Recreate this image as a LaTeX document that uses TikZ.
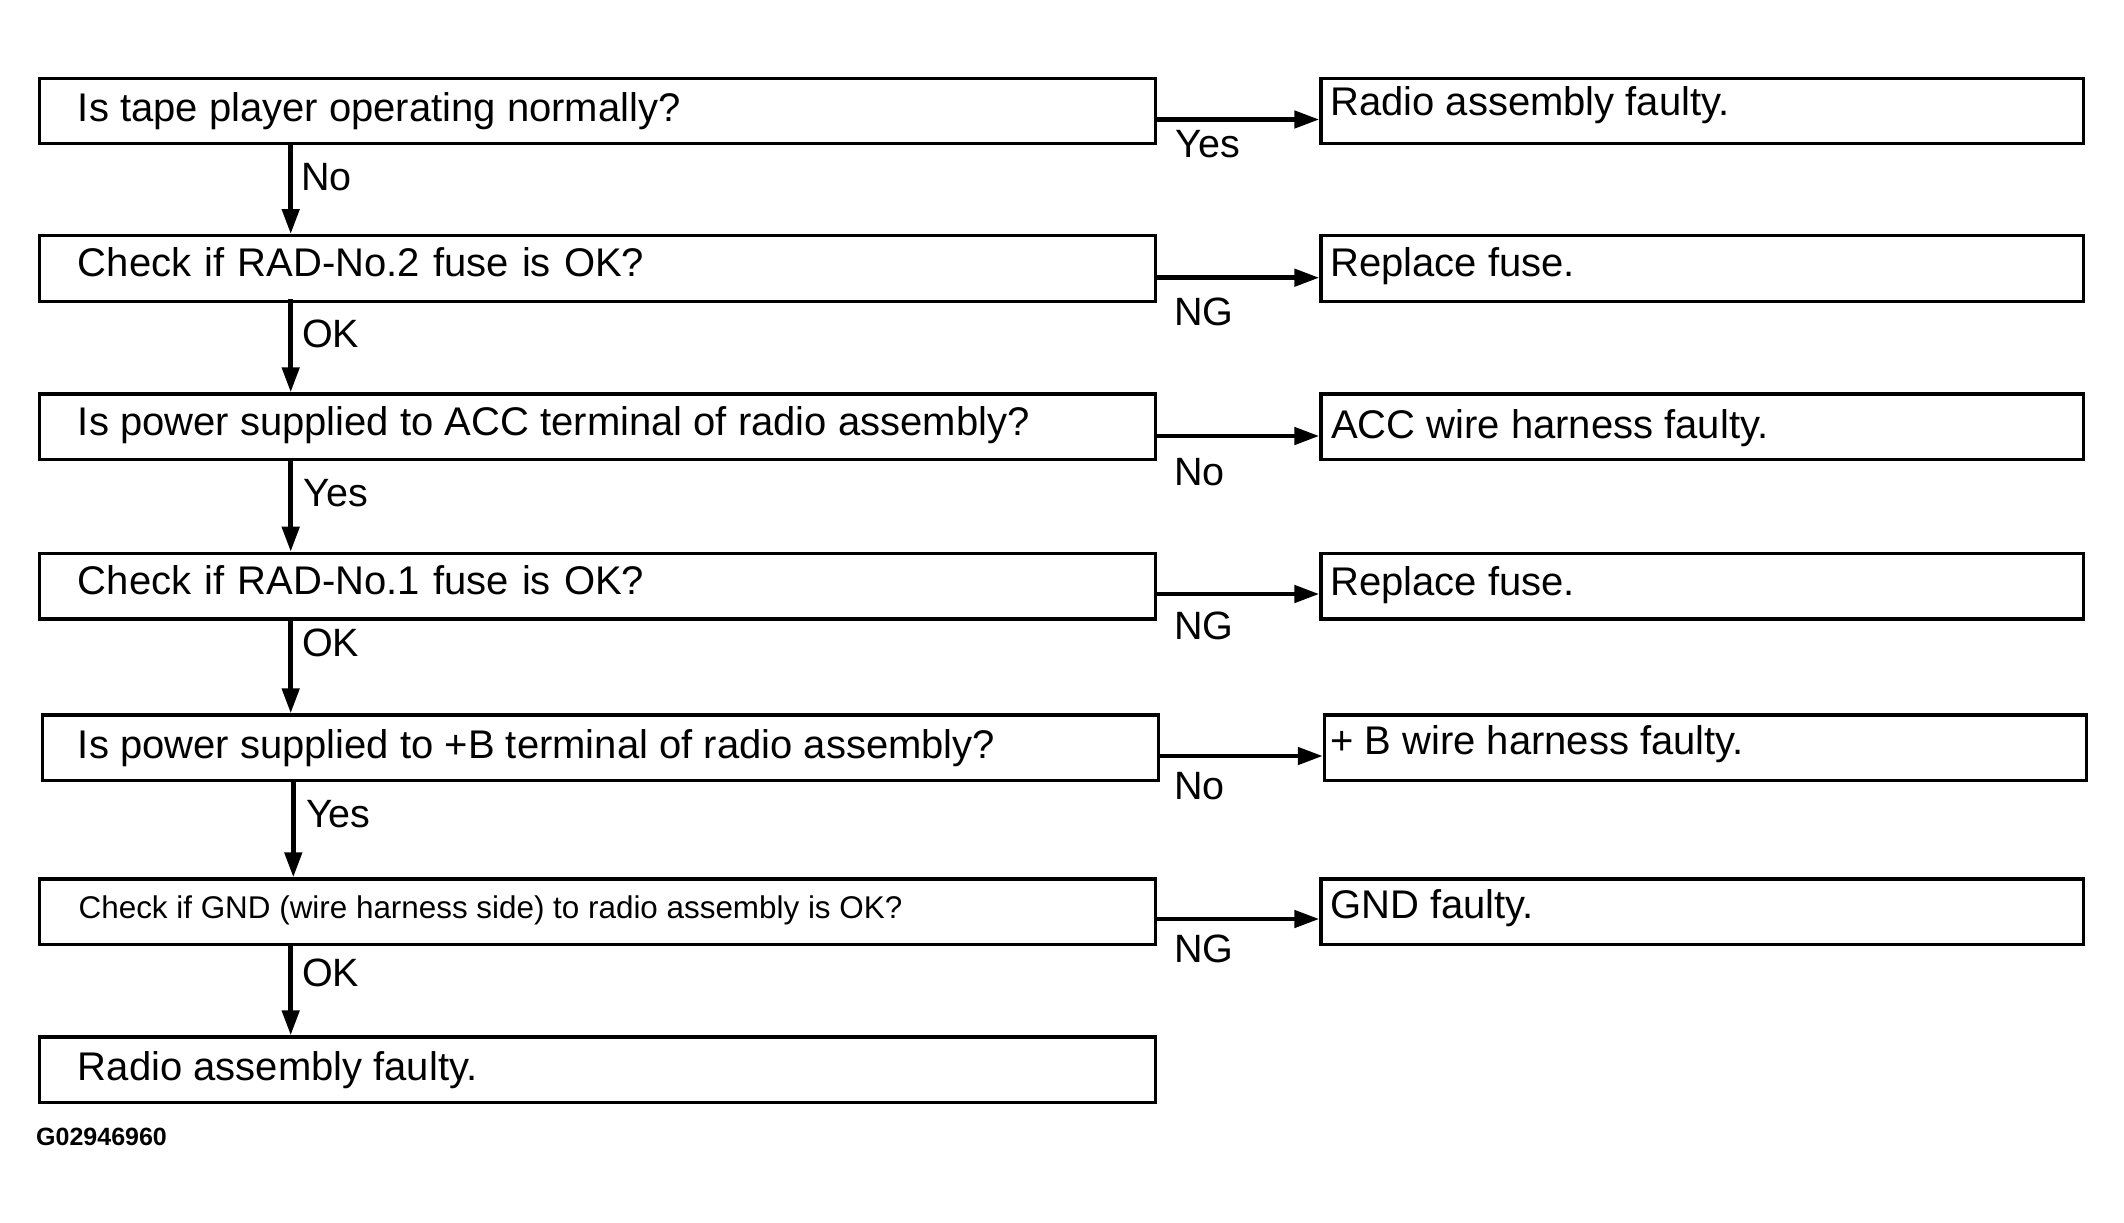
\documentclass[tikz,border=0pt]{standalone}
\usepackage{fontspec}
\setmainfont{Liberation Sans}
\usetikzlibrary{arrows.meta}
\tikzset{
  box/.style={draw=black, line width=3.2bp, rectangle, inner sep=0pt, anchor=north west},
  lbox/.style={box, minimum width=1116bp, minimum height=65.6bp},
  rbox/.style={box, minimum width=762.4bp, minimum height=65.6bp},
  txt/.style={anchor=base west, inner sep=0pt, font=\fontsize{40bp}{44bp}\selectfont},
  widetxt/.style={txt, execute at begin node={\spaceskip=13.2bp\relax}},
  smalltxt/.style={anchor=base west, inner sep=0pt, font=\fontsize{31.4bp}{34bp}\selectfont},
  lab/.style={anchor=base west, inner sep=0pt, font=\fontsize{39.5bp}{44bp}\selectfont},
  flow/.style={line width=4.7bp, -{Triangle[length=25bp,width=17bp]}},
}
\begin{document}
\begin{tikzpicture}[x=1bp,y=-1bp]
\fill[white] (0,0) rectangle (2124,1222);
\useasboundingbox (0,0) rectangle (2124,1222);

% left boxes
\node[lbox] (L1) at (38,76.5) {};
\node[lbox] (L2) at (38,234) {};
\node[lbox] (L3) at (38,392.3) {};
\node[lbox] (L4) at (38,551.7) {};
\node[lbox] (L5) at (41,713.3) {};
\node[lbox] (L6) at (38,877.3) {};
\node[lbox] (L7) at (38,1035.3) {};

% right boxes
\node[rbox] (R1) at (1319.3,76.5) {};
\node[rbox] (R2) at (1319.3,234) {};
\node[rbox] (R3) at (1319.3,392.3) {};
\node[rbox] (R4) at (1319.3,551.7) {};
\node[rbox] (R5) at (1322.8,713.3) {};
\node[rbox] (R6) at (1319.3,877.3) {};

% left texts
\node[txt] (tL1) at (77.8,121) {Is tape player operating normally?};
\node[widetxt] (tL2) at (77.8,276.7) {Check if RAD-No.2 fuse is OK?};
\node[txt] (tL3) at (77.8,435.2) {Is power supplied to ACC terminal of radio assembly?};
\node[widetxt] (tL4) at (77.8,594.3) {Check if RAD-No.1 fuse is OK?};
\node[txt] (tL5) at (77.8,758.3) {Is power supplied to +B terminal of radio assembly?};
\node[smalltxt] (tL6) at (78.5,918.3) {Check if GND (wire harness side) to radio assembly is OK?};
\node[txt] (tL7) at (77.8,1080) {Radio assembly faulty.};

% right texts
\node[txt] (tR1) at (1330,115.7) {Radio assembly faulty.};
\node[txt] (tR2) at (1330,276.7) {Replace fuse.};
\node[txt] (tR3) at (1331,438) {ACC wire harness faulty.};
\node[txt] (tR4) at (1330,595) {Replace fuse.};
\node[txt] (tR5) at (1330,754.3) {+ B wire harness faulty.};
\node[txt] (tR6) at (1330,918.3) {GND faulty.};

% vertical connectors
\coordinate (v1a) at (290.7,142.3); \coordinate (v1b) at (290.7,234);
\coordinate (v2a) at (290.7,299.3); \coordinate (v2b) at (290.7,392.3);
\coordinate (v3a) at (290.7,458.3); \coordinate (v3b) at (290.7,551.7);
\coordinate (v4a) at (290.7,617.3); \coordinate (v4b) at (290.7,713.3);
\coordinate (v5a) at (293.3,779.3); \coordinate (v5b) at (293.3,877.3);
\coordinate (v6a) at (290.7,943.3); \coordinate (v6b) at (290.7,1035.3);
\draw[flow] (v1a) -- (v1b);
\draw[flow] (v2a) -- (v2b);
\draw[flow] (v3a) -- (v3b);
\draw[flow] (v4a) -- (v4b);
\draw[flow] (v5a) -- (v5b);
\draw[flow] (v6a) -- (v6b);

% horizontal connectors
\draw[flow] (L1.east |- 0,119.5) -- (R1.west |- 0,119.5);
\draw[flow] (L2.east |- 0,277.7) -- (R2.west |- 0,277.7);
\draw[flow] (L3.east |- 0,436) -- (R3.west |- 0,436);
\draw[flow] (L4.east |- 0,594) -- (R4.west |- 0,594);
\draw[flow] (L5.east |- 0,756) -- (R5.west |- 0,756);
\draw[flow] (L6.east |- 0,919) -- (R6.west |- 0,919);

% vertical labels
\node[lab] (a1) at (301,190) {No};
\node[lab] (a2) at (302,347.7) {OK};
\node[lab] (a3) at (303.5,506) {Yes};
\node[lab] (a4) at (302,656.7) {OK};
\node[lab] (a5) at (306,827) {Yes};
\node[lab] (a6) at (302,986) {OK};

% horizontal labels
\node[lab] (b1) at (1175.5,157) {Yes};
\node[lab] (b2) at (1174,325) {NG};
\node[lab] (b3) at (1174,485.7) {No};
\node[lab] (b4) at (1174,639) {NG};
\node[lab] (b5) at (1174,799) {No};
\node[lab] (b6) at (1174,962.3) {NG};

\node[anchor=base west, inner sep=0pt, font=\bfseries\fontsize{25bp}{27bp}\selectfont] (code) at (36,1145.7) {G02946960};
\end{tikzpicture}
\end{document}
